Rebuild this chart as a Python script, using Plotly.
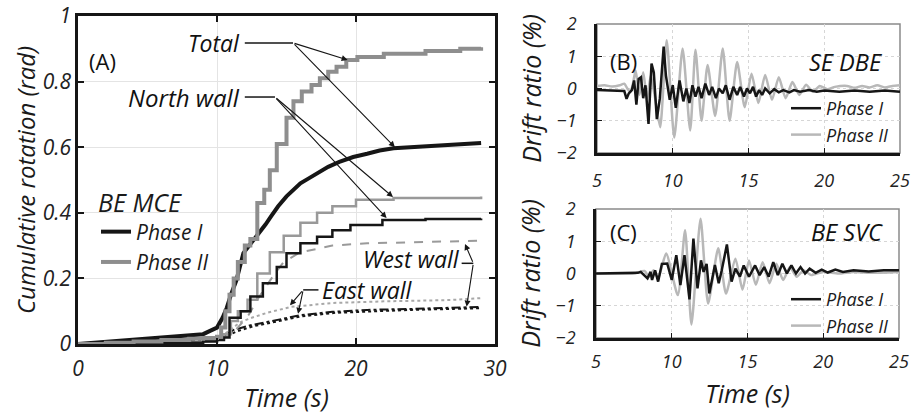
import plotly.graph_objects as go

W, H = 914, 414

# ---------------- Panel A data (cumulative rotation, rad) ----------------
tot1_t = [0, 2, 4, 6, 8, 9, 9.5, 10, 10.4, 10.7, 11.0, 11.4, 11.9, 12.5, 13.1, 13.5, 13.9, 14.4, 15.0, 15.5, 16.0, 16.6, 17.2, 18.0, 18.8, 19.8, 20.8, 21.7, 22.7, 25, 26.8, 29]
tot1_y = [0, 0.006, 0.012, 0.018, 0.025, 0.03, 0.04, 0.05, 0.08, 0.11, 0.15, 0.195, 0.277, 0.31, 0.34, 0.365, 0.39, 0.42, 0.45, 0.47, 0.49, 0.505, 0.52, 0.54, 0.555, 0.57, 0.58, 0.59, 0.597, 0.603, 0.607, 0.613]

tot2_t = [0, 2, 4, 6, 8, 9, 10, 10.3, 10.6, 10.9, 11.2, 11.5, 12, 12.4, 12.9, 13.4, 13.8, 14.3, 15.0, 15.5, 16.1, 16.8, 17.4, 18.0, 18.6, 19.3, 20.1, 22, 25, 27.5, 29]
tot2_y = [0, 0.004, 0.008, 0.012, 0.016, 0.018, 0.022, 0.05, 0.10, 0.15, 0.2, 0.25, 0.3, 0.32, 0.43, 0.47, 0.53, 0.61, 0.69, 0.74, 0.77, 0.79, 0.81, 0.83, 0.845, 0.866, 0.875, 0.885, 0.893, 0.90, 0.905]

north1_t = [0, 5, 9, 10, 10.5, 10.9, 11.7, 12.4, 13.3, 14.3, 15, 16, 17.2, 18.3, 19.6, 21.9, 25, 29]
north1_y = [0, 0.004, 0.008, 0.012, 0.02, 0.08, 0.10, 0.145, 0.185, 0.235, 0.277, 0.307, 0.327, 0.347, 0.363, 0.378, 0.381, 0.383]

north2_t = [0, 5, 9, 10, 10.5, 11, 11.5, 12.2, 12.9, 13.8, 14.8, 16, 17.2, 18.3, 20, 22.7, 29]
north2_y = [0, 0.005, 0.01, 0.015, 0.03, 0.07, 0.10, 0.135, 0.215, 0.28, 0.33, 0.37, 0.40, 0.42, 0.44, 0.445, 0.45]

west2_t = [0, 5, 9, 10, 11, 11.5, 12.3, 12.9, 14, 14.8, 16, 17.2, 18.3, 20.8, 25, 29]
west2_y = [0, 0.003, 0.006, 0.01, 0.03, 0.05, 0.09, 0.135, 0.205, 0.25, 0.28, 0.29, 0.30, 0.307, 0.31, 0.315]

east2_t = [0, 5, 9, 10, 10.5, 11, 11.7, 12.5, 13.6, 15.3, 18.3, 22, 26.8, 29]
east2_y = [0, 0.004, 0.008, 0.012, 0.03, 0.045, 0.067, 0.08, 0.095, 0.113, 0.125, 0.13, 0.134, 0.14]

west1_t = [0, 5, 9, 10, 10.5, 11.2, 12.5, 13.6, 16, 18.3, 20.8, 24, 26.8, 29]
west1_y = [0, 0.005, 0.01, 0.014, 0.025, 0.043, 0.058, 0.067, 0.088, 0.098, 0.104, 0.107, 0.11, 0.113]

east1_t = [0, 5, 9, 10, 10.6, 11.4, 12.6, 13.8, 16, 18.5, 21, 24, 27, 29]
east1_y = [0, 0.004, 0.009, 0.012, 0.022, 0.038, 0.054, 0.064, 0.084, 0.095, 0.1, 0.104, 0.107, 0.109]

# ---------------- Panel B data (SE DBE drift ratio, %) ----------------
b1_t = [5.0, 6.0, 6.8, 6.95, 7.1, 7.3, 7.45, 7.6, 7.75, 7.9, 8.05, 8.2, 8.4, 8.6, 8.75, 8.95, 9.15, 9.4, 9.55, 9.8, 10.0, 10.2, 10.45, 10.7, 10.9, 11.1, 11.3, 11.5, 11.7, 11.9, 12.15, 12.4, 12.6, 12.85, 13.05, 13.3, 13.5, 13.75, 14.0, 14.25, 14.45, 14.7, 14.9, 15.1, 15.3, 15.5, 15.7, 15.9, 16.1, 16.4, 16.7, 17.0, 17.3, 17.7, 18.0, 18.4, 19.0, 19.5, 20.0, 21.0, 22.0, 23.0, 24.0, 25.0]
b1_y = [-0.05, -0.07, -0.08, -0.32, -0.15, -0.05, 0.25, -0.5, 0.3, 0.35, -0.3, 0.1, -1.1, 0.77, 0.5, -0.95, -0.3, 1.3, 0.4, -0.35, 0.1, -0.6, 0.25, -0.4, 0.0, -0.45, 0.1, -0.25, 0.05, -0.3, 0.15, -0.2, 0.05, -0.3, 0.0, -0.15, 0.1, -0.35, 0.05, -0.2, 0.05, -0.25, 0.0, -0.15, 0.05, -0.25, -0.05, -0.2, 0.0, -0.15, -0.02, -0.12, -0.05, -0.12, -0.05, -0.1, -0.05, -0.1, -0.06, -0.1, -0.06, -0.1, -0.06, -0.1]

b2_t = [5.0, 5.5, 6.0, 6.5, 6.8, 7.0, 7.2, 7.35, 7.55, 7.8, 8.05, 8.3, 8.55, 8.8, 9.17, 9.6, 10.1, 10.65, 11.15, 11.5, 11.9, 12.3, 12.8, 13.3, 13.75, 14.25, 14.75, 15.2, 15.65, 16.1, 16.55, 17.0, 17.45, 17.9, 18.35, 18.8, 19.25, 19.7, 20.2, 20.7, 21.5, 22.0, 22.5, 23.0, 23.5, 24.0, 24.5, 25.0]
b2_y = [0.08, 0.1, 0.06, 0.1, 0.15, 0.0, -0.1, 0.1, 0.56, -0.2, 0.5, -0.3, 0.4, -0.2, -1.2, 1.5, -1.52, 1.24, -1.3, 1.2, -1.0, 0.73, -0.85, 1.24, -1.0, 0.82, -0.58, 0.46, -0.45, 0.42, -0.35, 0.35, -0.3, 0.2, -0.2, 0.12, -0.1, 0.08, -0.02, 0.05, 0.08, 0.02, 0.08, 0.03, 0.1, 0.03, 0.08, 0.1]

# ---------------- Panel C data (BE SVC drift ratio, %) ----------------
c1_t = [5.0, 7.0, 7.76, 7.95, 8.2, 8.4, 8.6, 8.7, 8.9, 9.1, 9.35, 9.7, 10.0, 10.3, 10.57, 10.84, 11.17, 11.43, 11.7, 11.93, 12.1, 12.3, 12.48, 12.85, 13.1, 13.3, 13.64, 13.95, 14.2, 14.5, 14.75, 15.1, 15.5, 15.8, 16.1, 16.4, 16.7, 17.0, 17.3, 17.6, 17.9, 18.2, 18.5, 18.8, 19.1, 19.5, 19.9, 20.3, 20.8, 21.3, 22.0, 23.0, 24.0, 25.0]
c1_y = [0.0, 0.0, 0.02, 0.05, -0.07, -0.15, 0.05, -0.2, 0.1, -0.25, 0.3, 0.31, -0.2, 0.57, -0.36, 0.57, -0.8, 1.08, -0.46, 0.41, 0.05, 0.3, -0.62, 0.26, -0.3, 0.1, 0.9, -0.25, 0.15, -0.1, 0.25, -0.1, 0.25, -0.05, 0.2, -0.1, 0.35, -0.05, 0.3, 0.0, 0.25, 0.0, 0.2, 0.0, 0.15, 0.02, 0.12, 0.03, 0.12, 0.05, 0.1, 0.06, 0.1, 0.1]

c2_t = [5.0, 7.5, 8.2, 8.5, 8.8, 9.1, 9.63, 10.4, 10.88, 11.3, 11.9, 12.4, 13.07, 13.58, 14.2, 14.67, 15.1, 15.55, 16.0, 16.45, 16.9, 17.35, 17.8, 18.25, 18.7, 19.2, 20.0, 21.0, 22.0, 23.0, 25.0]
c2_y = [0.0, 0.0, 0.08, -0.1, 0.1, -0.15, 0.62, -0.67, 1.34, -1.58, 1.7, -0.93, 0.78, -0.62, 0.46, -0.5, 0.4, -0.35, 0.35, -0.3, 0.3, -0.2, 0.2, -0.1, 0.1, -0.05, 0.05, 0.0, 0.05, 0.02, 0.05]

BLACK = "#161616"
GRAY_A = "#8e8e8e"
GRAY_L = "#b8b8b8"
FONT = "Open Sans"


def px(x):
    return x / W


def py(y):
    return 1 - y / H


def ital(size, color="#1a1a1a"):
    return dict(family=FONT, size=size, color=color, style="italic")


fig = go.Figure()

# Panel A traces
fig.add_trace(go.Scatter(x=east1_t, y=east1_y, mode="lines", line=dict(color=BLACK, width=2, dash="dot"), showlegend=False, xaxis="x", yaxis="y"))
fig.add_trace(go.Scatter(x=west1_t, y=west1_y, mode="lines", line=dict(color=BLACK, width=2, dash="dashdot"), showlegend=False, xaxis="x", yaxis="y"))
fig.add_trace(go.Scatter(x=east2_t, y=east2_y, mode="lines", line=dict(color="#a8a8a8", width=2, dash="dot"), showlegend=False, xaxis="x", yaxis="y"))
fig.add_trace(go.Scatter(x=west2_t, y=west2_y, mode="lines", line=dict(color="#9a9a9a", width=2, dash="dash"), showlegend=False, xaxis="x", yaxis="y"))
fig.add_trace(go.Scatter(x=north2_t, y=north2_y, mode="lines", line=dict(color="#999999", width=2.5, shape="hv"), showlegend=False, xaxis="x", yaxis="y"))
fig.add_trace(go.Scatter(x=north1_t, y=north1_y, mode="lines", line=dict(color=BLACK, width=2.5, shape="hv"), showlegend=False, xaxis="x", yaxis="y"))
fig.add_trace(go.Scatter(x=tot1_t, y=tot1_y, mode="lines", name="Phase I", line=dict(color=BLACK, width=4), legend="legend", xaxis="x", yaxis="y"))
fig.add_trace(go.Scatter(x=tot2_t, y=tot2_y, mode="lines", name="Phase II", line=dict(color=GRAY_A, width=4, shape="hv"), legend="legend", xaxis="x", yaxis="y"))

# Panel B traces
fig.add_trace(go.Scatter(x=b2_t, y=b2_y, mode="lines", name="Phase II", line=dict(color=GRAY_L, width=2.5, shape="spline", smoothing=0.6), legend="legend2", xaxis="x2", yaxis="y2"))
fig.add_trace(go.Scatter(x=b1_t, y=b1_y, mode="lines", name="Phase I", line=dict(color=BLACK, width=2.5), legend="legend2", xaxis="x2", yaxis="y2"))

# Panel C traces
fig.add_trace(go.Scatter(x=c2_t, y=c2_y, mode="lines", name="Phase II", line=dict(color=GRAY_L, width=2.5, shape="spline", smoothing=0.6), legend="legend3", xaxis="x3", yaxis="y3"))
fig.add_trace(go.Scatter(x=c1_t, y=c1_y, mode="lines", name="Phase I", line=dict(color=BLACK, width=2.5), legend="legend3", xaxis="x3", yaxis="y3"))

axA = dict(showline=True, linecolor=BLACK, linewidth=2.5, mirror="ticks", ticks="inside", ticklen=6, tickwidth=1.5, tickcolor=BLACK,
           showgrid=True, gridcolor="#e4e4e4", gridwidth=1, zeroline=False, tickfont=ital(21, "#222"), automargin=False)
axB = dict(showline=True, linecolor=BLACK, linewidth=2.5, mirror=False, ticks="inside", ticklen=5, tickwidth=1.2, tickcolor=BLACK,
           showgrid=True, gridcolor="#d6d6d6", gridwidth=1, griddash="dot", zeroline=False, tickfont=ital(18, "#222"), automargin=False)

fig.update_layout(
    width=W, height=H, margin=dict(l=0, r=0, t=0, b=0, autoexpand=False),
    paper_bgcolor="white", plot_bgcolor="white",
    xaxis=dict(axA, domain=[px(78), px(495)], anchor="y", range=[0, 30], tickvals=[0, 10, 20, 30], ticklabelstandoff=4,
               title=dict(text="Time (s)", font=ital(25), standoff=14)),
    yaxis=dict(axA, domain=[py(344), py(16)], anchor="x", range=[0, 1], tickvals=[0, 0.2, 0.4, 0.6, 0.8, 1],
               ticktext=["0", "0.2", "0.4", "0.6", "0.8", "1"],
               title=dict(text="Cumulative rotation (rad)", font=ital(24), standoff=1)),
    xaxis2=dict(axB, domain=[px(597), px(900)], anchor="y2", range=[5, 25], tickvals=[5, 10, 15, 20, 25], ticklabelstandoff=10),
    yaxis2=dict(axB, domain=[py(153), py(24)], anchor="x2", range=[-2, 2], tickvals=[-2, -1, 0, 1, 2], ticklabelstandoff=14,
                title=dict(text="Drift ratio (%)", font=ital(25), standoff=9)),
    xaxis3=dict(axB, domain=[px(596), px(899)], anchor="y3", range=[5, 25], tickvals=[5, 10, 15, 20, 25], ticklabelstandoff=6,
                title=dict(text="Time (s)", font=ital(25), standoff=14)),
    yaxis3=dict(axB, domain=[py(338), py(209)], anchor="x3", range=[-2, 2], tickvals=[-2, -1, 0, 1, 2], ticklabelstandoff=14,
                title=dict(text="Drift ratio (%)", font=ital(25), standoff=9)),
    legend=dict(x=px(96), y=py(179), xanchor="left", yanchor="top", bgcolor="rgba(0,0,0,0)",
                title=dict(text="BE MCE", font=ital(25), side="top"),
                font=ital(21), tracegroupgap=0, traceorder="normal"),
    legend2=dict(x=px(786), y=py(90), xanchor="left", yanchor="top", bgcolor="rgba(0,0,0,0)",
                 font=ital(18), traceorder="reversed"),
    legend3=dict(x=px(786), y=py(281), xanchor="left", yanchor="top", bgcolor="rgba(0,0,0,0)",
                 font=ital(18), traceorder="reversed"),
)

# gray frame (top/right) for panels B and C
for xr, yr in (("x2 domain", "y2 domain"), ("x3 domain", "y3 domain")):
    fig.add_shape(type="rect", xref=xr, yref=yr, x0=0, x1=1, y0=0, y1=1, line=dict(color="#8a8a8a", width=1.5), layer="below")

ann_font = ital(23, "#111")
plain_font = dict(family=FONT, size=22, color="#111")

# Panel labels
fig.add_annotation(x=px(87), y=py(44), xref="paper", yref="paper", text="(A)", showarrow=False, xanchor="left", font=plain_font)
fig.add_annotation(x=px(608), y=py(44), xref="paper", yref="paper", text="(B)", showarrow=False, xanchor="left", font=plain_font)
fig.add_annotation(x=px(608), y=py(232), xref="paper", yref="paper", text="(C)", showarrow=False, xanchor="left", font=plain_font)
fig.add_annotation(x=px(885), y=py(44), xref="paper", yref="paper", text="SE DBE", showarrow=False, xanchor="right", font=ital(23.5, "#111"))
fig.add_annotation(x=px(885), y=py(232), xref="paper", yref="paper", text="BE SVC", showarrow=False, xanchor="right", font=ital(23.5, "#111"))

# Curve labels with leader lines and arrows (panel A, data coordinates)
fig.add_annotation(x=11.8, y=0.918, xref="x", yref="y", text="Total", showarrow=False, xanchor="right", font=ann_font)
fig.add_shape(type="line", xref="x", yref="y", x0=12.0, x1=15.47, y0=0.918, y1=0.918, line=dict(color=BLACK, width=1.5))
fig.add_annotation(x=11.8, y=0.753, xref="x", yref="y", text="North wall", showarrow=False, xanchor="right", font=ital(24, "#111"))
fig.add_shape(type="line", xref="x", yref="y", x0=12.0, x1=14.17, y0=0.753, y1=0.753, line=dict(color=BLACK, width=1.5))
fig.add_annotation(x=17.4, y=0.165, xref="x", yref="y", text="East wall", showarrow=False, xanchor="left", font=ann_font)
fig.add_shape(type="line", xref="x", yref="y", x0=16.2, x1=17.3, y0=0.165, y1=0.165, line=dict(color=BLACK, width=1.5))
fig.add_annotation(x=27.6, y=0.258, xref="x", yref="y", text="West wall", showarrow=False, xanchor="right", font=ann_font)
fig.add_shape(type="line", xref="x", yref="y", x0=27.6, x1=28.44, y0=0.246, y1=0.246, line=dict(color=BLACK, width=1.5))

arrows = [
    ((15.47, 0.918), (19.4, 0.866)),
    ((15.47, 0.918), (22.8, 0.600)),
    ((14.17, 0.753), (22.66, 0.448)),
    ((14.17, 0.753), (22.2, 0.384)),
    ((16.2, 0.165), (15.25, 0.118)),
    ((16.2, 0.165), (15.83, 0.092)),
    ((28.44, 0.246), (27.84, 0.305)),
    ((28.44, 0.246), (27.96, 0.114)),
]
for (tx, ty), (hx, hy) in arrows:
    fig.add_annotation(x=hx, y=hy, ax=tx, ay=ty, xref="x", yref="y", axref="x", ayref="y", text="",
                       showarrow=True, arrowhead=2, arrowsize=1.1, arrowwidth=1.1, arrowcolor=BLACK, standoff=0)

fig.write_html("out.html")
